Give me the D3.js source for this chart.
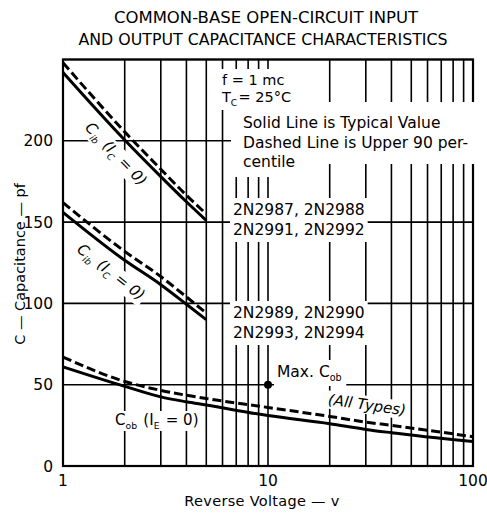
<!DOCTYPE html>
<html>
<head>
<meta charset="utf-8">
<script src="https://cdn.jsdelivr.net/npm/d3@7"></script>
<style>
  body { margin: 0; background: #fff; }
  text { font-family: "DejaVu Sans", sans-serif; fill: #000; }
</style>
</head>
<body>
<div class="chart"></div>
<script>
// values (x = reverse voltage, v ; y = capacitance, pf)
var cib1Typ = [[1, 242], [2, 200.5], [3, 178], [4, 162.5], [5, 151]];
var cib1Max = [[1, 248], [2, 205.5], [3, 182.5], [4, 166.5], [5, 155]];
var cib2Typ = [[1, 156], [2, 126.5], [3, 111.5], [4, 99.5], [5, 90]];
var cib2Max = [[1, 162], [2, 132], [3, 116.5], [4, 104], [5, 94]];
var cobTyp = [[1, 61], [2, 49], [3, 42.5], [4, 39.5], [5, 37.5], [10, 31], [20, 26], [30, 22.5], [40, 20.5], [100, 15]];
var cobMax = [[1, 67], [2, 52], [3, 46.5], [4, 43.5], [5, 41.5], [10, 36], [20, 30.5], [30, 27], [40, 25], [100, 18]];
var maxCob = [[10, 50]];

var xTicks = [1, 10, 100];
var yTicks = [0, 50, 100, 150, 200];
var xGrid = [1, 2, 3, 4, 5, 6, 7, 8, 9, 10, 20, 30, 40, 50, 60, 70, 80, 90, 100];
var yGrid = [0, 50, 100, 150, 200, 250];

var margin = { top: 59.5, right: 14, bottom: 47, left: 63 },
  W = 487, H = 513;

var x = d3.scaleLog().domain([1, 100]).range([margin.left, W - margin.right]);
var y = d3.scaleLinear().domain([0, 250]).range([H - margin.bottom, margin.top]);

var svg = d3.select(".chart").append("svg").attr("width", W).attr("height", H);

// title
svg.append("text").attr("x", 266).attr("y", 23).attr("text-anchor", "middle")
  .style("font-size", "16.5px").text("COMMON-BASE OPEN-CIRCUIT INPUT");
svg.append("text").attr("x", 263).attr("y", 45).attr("text-anchor", "middle")
  .style("font-size", "15.8px").text("AND OUTPUT CAPACITANCE CHARACTERISTICS");

// grid
var grid = svg.append("g").attr("stroke", "#000").attr("stroke-width", 1.6);
grid.selectAll(".v").data(xGrid).enter().append("line")
  .attr("x1", (d) => x(d)).attr("x2", (d) => x(d))
  .attr("y1", y(0)).attr("y2", y(250));
grid.selectAll(".h").data(yGrid).enter().append("line")
  .attr("x1", x(1)).attr("x2", x(100))
  .attr("y1", (d) => y(d)).attr("y2", (d) => y(d));

// frame
svg.append("rect").attr("x", x(1)).attr("y", y(250))
  .attr("width", x(100) - x(1)).attr("height", y(0) - y(250))
  .attr("fill", "none").attr("stroke", "#000").attr("stroke-width", 2.2);

// tick labels
svg.selectAll(".xt").data(xTicks).enter().append("text")
  .attr("x", (d) => x(d)).attr("y", 486).attr("text-anchor", "middle")
  .style("font-size", "15.5px").text((d) => d);
svg.selectAll(".yt").data(yTicks).enter().append("text")
  .attr("x", 53).attr("y", (d) => y(d) + 5.5).attr("text-anchor", "end")
  .style("font-size", "15.5px").text((d) => d);

svg.append("text").attr("x", 262).attr("y", 506).attr("text-anchor", "middle")
  .style("font-size", "14.5px").style("letter-spacing", "0.3px").text("Reverse Voltage \u2014 v");
svg.append("text").attr("transform", "translate(25,264) rotate(-90)")
  .attr("text-anchor", "middle").style("font-size", "14.5px")
  .text("C  \u2014 Capacitance \u2014 pf");

// labels layer (white boxes hide the grid behind the text)
var maskLayer = svg.append("g");
var curveLayer = svg.append("g");
var textLayer = svg.append("g");

function addText(g, l) {
  var size = l.size;
  var t = g.append("text").attr("x", l.x).attr("y", l.y)
    .attr("text-anchor", l.anchor || "start").style("font-size", size + "px");
  if (l.italic) t.style("font-style", "italic");
  if (l.ls) t.style("letter-spacing", l.ls + "px");
  l.parts.forEach(function (p) {
    if (typeof p === "string") {
      t.append("tspan").text(p);
    } else {
      t.append("tspan").attr("dy", 4).style("font-size", (size * 0.62) + "px").text(p.sub);
      t.append("tspan").attr("dy", -4).text("\u200a");
    }
  });
  return t;
}

function block(lines, pad, transform) {
  var g = textLayer.append("g");
  var m = maskLayer.append("g");
  if (transform) { g.attr("transform", transform); m.attr("transform", transform); }
  lines.forEach(function (l) { addText(g, l); });
  var b = g.node().getBBox();
  m.append("rect").attr("x", b.x - pad[0]).attr("y", b.y - pad[1])
    .attr("width", b.width + pad[0] * 2).attr("height", b.height + pad[1] * 2)
    .attr("fill", "#fff");
}

block([{ x: 222, y: 85, parts: ["f  = 1 mc"], size: 14.5 }], [8, 3]);
block([{ x: 222, y: 102, parts: ["T", { sub: "C" }, "= 25\u00b0C"], size: 14.5 }], [8, 2]);
block([
  { x: 243, y: 128, parts: ["Solid Line is Typical Value"], size: 15.5 },
  { x: 243, y: 148, parts: ["Dashed Line is Upper 90 per-"], size: 15.5 }
], [12, 12]);
block([{ x: 243, y: 167, parts: ["centile"], size: 15.5 }], [12, 6]);
block([
  { x: 233, y: 215, parts: ["2N2987, 2N2988"], size: 15.5 },
  { x: 233, y: 235, parts: ["2N2991, 2N2992"], size: 15.5 }
], [3, 3]);
block([
  { x: 233, y: 318, parts: ["2N2989, 2N2990"], size: 15.5 },
  { x: 233, y: 338, parts: ["2N2993, 2N2994"], size: 15.5 }
], [3, 3]);
block([{ x: 277, y: 377, parts: ["Max. C", { sub: "ob" }], size: 15.5 }], [3, 3]);
block([{ x: 0, y: 5, parts: ["(All Types)"], size: 15, anchor: "middle", italic: true }], [2, 0],
  "translate(367,405) rotate(8)");
block([{ x: 115, y: 425, parts: ["C", { sub: "ob" }, " (I", { sub: "E" }, " = 0)"], size: 15 }], [2, 0]);
block([{ x: 0, y: 5, parts: ["C", { sub: "ib" }, " (I", { sub: "C" }, " = 0)"], size: 15, anchor: "middle", italic: true }],
  [2, 0], "translate(116,154) rotate(46)");
block([{ x: 0, y: 5, parts: ["C", { sub: "ib" }, " (I", { sub: "C" }, " = 0)"], size: 15, anchor: "middle", italic: true }],
  [2, 0], "translate(111,272) rotate(38)");

// curves
var line = d3.line().x((d) => x(d[0])).y((d) => y(d[1])).curve(d3.curveMonotoneX);
[cib1Typ, cib2Typ, cobTyp].forEach(function (s) {
  curveLayer.append("path").attr("d", line(s)).attr("fill", "none")
    .attr("stroke", "#000").attr("stroke-width", 3);
});
[cib1Max, cib2Max, cobMax].forEach(function (s) {
  curveLayer.append("path").attr("d", line(s)).attr("fill", "none")
    .attr("stroke", "#000").attr("stroke-width", 3).attr("stroke-dasharray", "9,4");
});

curveLayer.selectAll(".pt").data(maxCob).enter().append("circle")
  .attr("cx", (d) => x(d[0])).attr("cy", (d) => y(d[1])).attr("r", 4).attr("fill", "#000");
</script>
</body>
</html>
